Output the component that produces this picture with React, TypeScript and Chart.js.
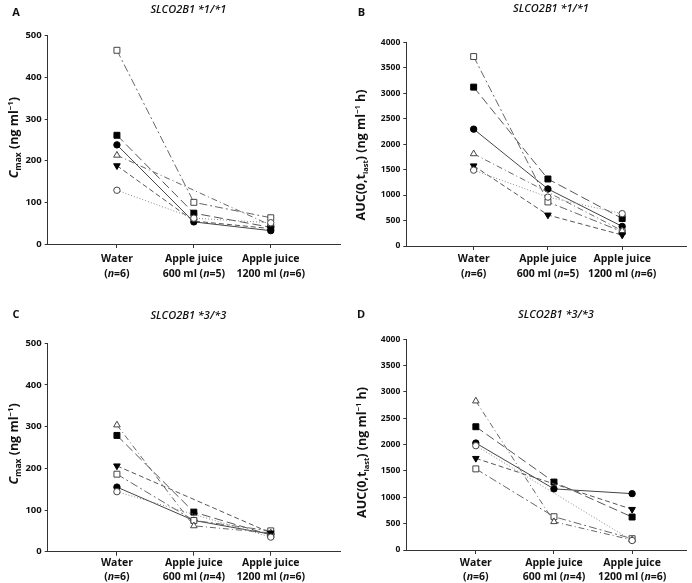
import React, { useEffect, useRef } from 'react';
import { Chart, registerables } from 'chart.js';

Chart.register(...registerables);

// ---------- data ----------
const categories = ['Water', 'Apple juice', 'Apple juice'];
const doseLabels = ['', '600 ml ', '1200 ml '];
const nStar1 = [6, 5, 6];
const nStar3 = [6, 4, 6];

const genotypeStar1 = 'SLCO2B1 *1/*1';
const genotypeStar3 = 'SLCO2B1 *3/*3';

// Panel A: Cmax, *1/*1 (ng/ml)
const cmaxStar1FilledSquare = [261, 74, 40];
const cmaxStar1FilledCircle = [238, 53, 32];
const cmaxStar1OpenSquare = [465, 100, 63];
const cmaxStar1OpenTriangle = [213, null, 45];
const cmaxStar1DownTriangle = [188, 55, 37];
const cmaxStar1OpenCircle = [129, 62, 51];

// Panel B: AUC(0,tlast), *1/*1 (ng ml-1 h)
const aucStar1FilledSquare = [3120, 1316, 540];
const aucStar1FilledCircle = [2295, 1120, 385];
const aucStar1OpenSquare = [3720, 865, 280];
const aucStar1OpenTriangle = [1810, null, 300];
const aucStar1DownTriangle = [1575, 609, 216];
const aucStar1OpenCircle = [1490, 960, 635];

// Panel C: Cmax, *3/*3
const cmaxStar3FilledSquare = [279, 95, 40];
const cmaxStar3FilledCircle = [155, 75, 42];
const cmaxStar3OpenSquare = [186, 75, 50];
const cmaxStar3OpenTriangle = [304, 62, 45];
const cmaxStar3DownTriangle = [206, null, 45];
const cmaxStar3OpenCircle = [144, null, 35];

// Panel D: AUC(0,tlast), *3/*3
const aucStar3FilledSquare = [2340, 1290, 626];
const aucStar3FilledCircle = [2030, 1160, 1070];
const aucStar3OpenSquare = [1540, 632, 215];
const aucStar3OpenTriangle = [2828, 537, 190];
const aucStar3DownTriangle = [1740, null, 772];
const aucStar3OpenCircle = [1980, null, 180];

// ---------- styles ----------
const FONT = '"Open Sans", "Noto Sans", sans-serif';
const TEXT = '#111';

type MarkerKey = 'filledSquare' | 'filledCircle' | 'openSquare' | 'openTriangle' | 'downTriangle' | 'openCircle';

const markerStyles: Record<MarkerKey, any> = {
  filledSquare: { pointStyle: 'rect', pointRadius: 4.2, fill: '#000', stroke: '#000', line: '#555', dash: [9, 4] },
  filledCircle: { pointStyle: 'circle', pointRadius: 3.2, fill: '#000', stroke: '#000', line: '#444', dash: [] },
  openSquare: { pointStyle: 'rect', pointRadius: 4.2, fill: '#fff', stroke: '#444', line: '#666', dash: [8, 3, 2, 3] },
  openTriangle: { pointStyle: 'triangle', pointRadius: 3.8, fill: '#fff', stroke: '#444', line: '#666', dash: [6, 3, 1, 3] },
  downTriangle: { pointStyle: 'triangle', pointRadius: 3.8, fill: '#000', stroke: '#000', line: '#555', dash: [5, 3], rotation: 180 },
  openCircle: { pointStyle: 'circle', pointRadius: 3.2, fill: '#fff', stroke: '#444', line: '#8a8a8a', dash: [1, 2] },
};

type Part = { t: string; font: string; dy?: number };

function drawRich(ctx: CanvasRenderingContext2D, parts: Part[], x: number, y: number, rotate: boolean, baseSize: number) {
  ctx.save();
  ctx.translate(x, y);
  if (rotate) ctx.rotate(-Math.PI / 2);
  let total = 0;
  const widths = parts.map((p) => {
    ctx.font = p.font;
    const w = ctx.measureText(p.t).width;
    total += w;
    return w;
  });
  let cx = -total / 2;
  ctx.textBaseline = 'alphabetic';
  ctx.textAlign = 'left';
  ctx.fillStyle = TEXT;
  const base = baseSize * 0.36;
  parts.forEach((p, i) => {
    ctx.font = p.font;
    ctx.fillText(p.t, cx, base + (p.dy || 0));
    cx += widths[i];
  });
  ctx.restore();
}

const cmaxTitle = (s: number): Part[] => [
  { t: 'C', font: `italic bold ${s}px ${FONT}` },
  { t: 'max', font: `bold ${s * 0.68}px ${FONT}`, dy: 3 },
  { t: ' (ng ml', font: `bold ${s}px ${FONT}` },
  { t: '\u22121', font: `bold ${s * 0.62}px ${FONT}`, dy: -5 },
  { t: ')', font: `bold ${s}px ${FONT}` },
];
const aucTitle = (s: number): Part[] => [
  { t: 'AUC(0,t', font: `bold ${s}px ${FONT}` },
  { t: 'last', font: `bold ${s * 0.6}px ${FONT}`, dy: 3 },
  { t: ') (ng ml', font: `bold ${s}px ${FONT}` },
  { t: '\u22121', font: `bold ${s * 0.6}px ${FONT}`, dy: -5 },
  { t: ' h)', font: `bold ${s}px ${FONT}` },
];

type PanelCfg = {
  id: string;
  left: number;
  top: number;
  width: number;
  height: number;
  series: Record<MarkerKey, (number | null)[]>;
  order: MarkerKey[];
  yMax: number;
  yStep: number;
  yFont: number;
  xMin: number;
  xMax: number;
  area: { left: number; right: number; top: number; bottom: number };
  letter: [number, number];
  title: string;
  titlePos: [number, number];
  yTitle: Part[];
  yTitleSize: number;
  yTitlePos: [number, number];
  nValues: number[];
  labelY: [number, number];
};

const order: MarkerKey[] = ['openCircle', 'downTriangle', 'openTriangle', 'openSquare', 'filledSquare', 'filledCircle'];

const panels: PanelCfg[] = [
  {
    id: 'A', left: 0, top: 0, width: 346, height: 290,
    series: {
      filledSquare: cmaxStar1FilledSquare, filledCircle: cmaxStar1FilledCircle, openSquare: cmaxStar1OpenSquare,
      openTriangle: cmaxStar1OpenTriangle, downTriangle: cmaxStar1DownTriangle, openCircle: cmaxStar1OpenCircle,
    },
    order, yMax: 500, yStep: 100, yFont: 9.5, xMin: -0.9, xMax: 2.9,
    area: { left: 47.7, right: 340, top: 35.7, bottom: 244 },
    letter: [16, 12.7], title: genotypeStar1, titlePos: [188.3, 9.5],
    yTitle: cmaxTitle(12.5), yTitleSize: 12.5, yTitlePos: [13.3, 137.7],
    nValues: nStar1, labelY: [259, 273],
  },
  {
    id: 'B', left: 346, top: 0, width: 346, height: 290,
    series: {
      filledSquare: aucStar1FilledSquare, filledCircle: aucStar1FilledCircle, openSquare: aucStar1OpenSquare,
      openTriangle: aucStar1OpenTriangle, downTriangle: aucStar1DownTriangle, openCircle: aucStar1OpenCircle,
    },
    order, yMax: 4000, yStep: 500, yFont: 8.5, xMin: -0.907, xMax: 2.87,
    area: { left: 60.3, right: 343, top: 42.3, bottom: 246 },
    letter: [15.5, 13], title: genotypeStar1, titlePos: [205, 8.5],
    yTitle: aucTitle(12.5), yTitleSize: 12.5, yTitlePos: [14, 155],
    nValues: nStar1, labelY: [259.3, 273.3],
  },
  {
    id: 'C', left: 0, top: 290, width: 346, height: 293,
    series: {
      filledSquare: cmaxStar3FilledSquare, filledCircle: cmaxStar3FilledCircle, openSquare: cmaxStar3OpenSquare,
      openTriangle: cmaxStar3OpenTriangle, downTriangle: cmaxStar3DownTriangle, openCircle: cmaxStar3OpenCircle,
    },
    order, yMax: 500, yStep: 100, yFont: 9.5, xMin: -0.9, xMax: 2.9,
    area: { left: 47.7, right: 340, top: 53.3, bottom: 261.7 },
    letter: [16, 25], title: genotypeStar3, titlePos: [188.3, 26],
    yTitle: cmaxTitle(12.5), yTitleSize: 12.5, yTitlePos: [13.3, 154],
    nValues: nStar3, labelY: [273, 286.7],
  },
  {
    id: 'D', left: 346, top: 290, width: 346, height: 293,
    series: {
      filledSquare: aucStar3FilledSquare, filledCircle: aucStar3FilledCircle, openSquare: aucStar3OpenSquare,
      openTriangle: aucStar3OpenTriangle, downTriangle: aucStar3DownTriangle, openCircle: aucStar3OpenCircle,
    },
    order, yMax: 4000, yStep: 500, yFont: 8.5, xMin: -0.89, xMax: 2.7,
    area: { left: 60.3, right: 345, top: 49.3, bottom: 260 },
    letter: [15, 25], title: genotypeStar3, titlePos: [210, 25],
    yTitle: aucTitle(12.5), yTitleSize: 12.5, yTitlePos: [15, 162.5],
    nValues: nStar3, labelY: [273.3, 286.7],
  },
];

function Panel({ cfg }: { cfg: PanelCfg }) {
  const ref = useRef<HTMLCanvasElement | null>(null);

  useEffect(() => {
    const canvas = ref.current;
    if (!canvas) return;

    const datasets = cfg.order.map((key) => {
      const st = markerStyles[key];
      const vals = cfg.series[key];
      const data = vals
        .map((v, i) => (v === null ? null : { x: i, y: v }))
        .filter((p) => p !== null);
      return {
        label: key,
        data,
        borderColor: st.line,
        borderWidth: 1,
        borderDash: st.dash,
        pointStyle: st.pointStyle,
        pointRadius: st.pointRadius,
        pointRotation: st.rotation || 0,
        pointBackgroundColor: st.fill,
        pointBorderColor: st.stroke,
        pointBorderWidth: 1,
        showLine: true,
        fill: false,
        tension: 0,
        clip: false,
      };
    });

    const decor = {
      id: 'decor',
      afterDraw(chart: any) {
        const ctx = chart.ctx as CanvasRenderingContext2D;
        const xs = chart.scales.x;
        ctx.save();
        ctx.fillStyle = TEXT;
        ctx.textAlign = 'center';
        ctx.textBaseline = 'middle';
        ctx.font = `bold 11px ${FONT}`;
        ctx.fillText(cfg.id, cfg.letter[0], cfg.letter[1]);
        ctx.font = `italic 600 11px ${FONT}`;
        ctx.fillText(cfg.title, cfg.titlePos[0], cfg.titlePos[1]);
        ctx.restore();
        drawRich(ctx, cfg.yTitle, cfg.yTitlePos[0], cfg.yTitlePos[1], true, cfg.yTitleSize);
        categories.forEach((cat, i) => {
          const px = xs.getPixelForValue(i);
          ctx.save();
          ctx.fillStyle = TEXT;
          ctx.textAlign = 'center';
          ctx.textBaseline = 'middle';
          ctx.font = `bold 10.5px ${FONT}`;
          ctx.fillText(cat, px, cfg.labelY[0]);
          ctx.restore();
          drawRich(
            ctx,
            [
              { t: doseLabels[i] + '(', font: `bold 10.5px ${FONT}` },
              { t: 'n', font: `italic bold 10.5px ${FONT}` },
              { t: '=' + cfg.nValues[i] + ')', font: `bold 10.5px ${FONT}` },
            ],
            px,
            cfg.labelY[1],
            false,
            10.5
          );
        });
      },
    };

    const chart = new Chart(canvas, {
      type: 'scatter',
      data: { datasets: datasets as any },
      options: {
        animation: false,
        responsive: false,
        maintainAspectRatio: false,
        layout: {
          padding: {
            left: 0,
            right: cfg.width - cfg.area.right,
            top: cfg.area.top,
            bottom: 0,
          },
        },
        plugins: {
          legend: { display: false },
          tooltip: { enabled: false },
          title: { display: false },
        },
        scales: {
          x: {
            type: 'linear',
            min: cfg.xMin,
            max: cfg.xMax,
            afterBuildTicks: (s: any) => {
              s.ticks = [{ value: 0 }, { value: 1 }, { value: 2 }];
            },
            afterFit: (s: any) => {
              s.height = cfg.height - cfg.area.bottom;
            },
            border: { display: true, color: '#333', width: 1 },
            grid: { display: true, drawOnChartArea: false, drawTicks: true, tickLength: 4, color: '#333' },
            ticks: { display: false },
          },
          y: {
            type: 'linear',
            min: 0,
            max: cfg.yMax,
            afterFit: (s: any) => {
              s.width = cfg.area.left;
            },
            border: { display: true, color: '#333', width: 1 },
            grid: { display: true, drawOnChartArea: false, drawTicks: true, tickLength: 3, color: '#333' },
            ticks: {
              stepSize: cfg.yStep,
              padding: 3,
              color: TEXT,
              font: { family: FONT, weight: 'bold', size: cfg.yFont },
              callback: (v: any) => String(v),
            },
          },
        },
      },
      plugins: [decor],
    });

    return () => chart.destroy();
  }, [cfg]);

  return (
    <canvas
      ref={ref}
      width={cfg.width}
      height={cfg.height}
      style={{
        position: 'absolute',
        left: cfg.left,
        top: cfg.top,
        width: cfg.width,
        height: cfg.height,
      }}
    />
  );
}

export default function App() {
  return (
    <div
      style={{
        position: 'absolute',
        left: 0,
        top: 0,
        width: 692,
        height: 583,
        background: '#fff',
        overflow: 'hidden',
      }}
    >
      {panels.map((p) => (
        <Panel key={p.id} cfg={p} />
      ))}
    </div>
  );
}
